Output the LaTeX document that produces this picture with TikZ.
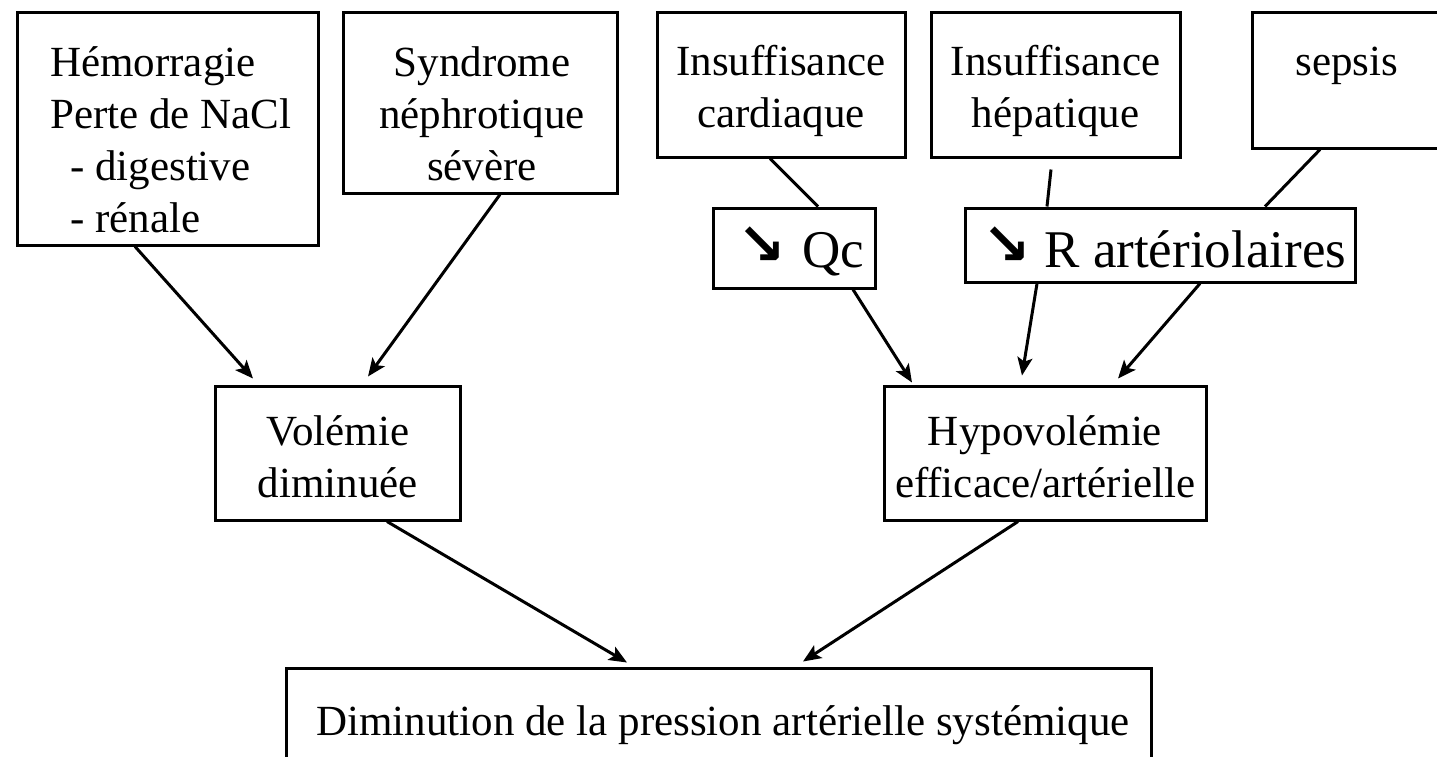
\documentclass[tikz,border=0pt]{standalone}
\usepackage{fontspec}
\setmainfont{Liberation Serif}
\newfontfamily\dejavu{DejaVu Sans}
\usetikzlibrary{arrows.meta}
\begin{document}
\begin{tikzpicture}[x=1pt,y=-1pt,
  box/.style={draw, line width=3pt, inner sep=0pt, rectangle},
  txt/.style={inner sep=0pt, font=\fontsize{43}{52}\selectfont},
  big/.style={inner sep=0pt, font=\fontsize{53}{60}\selectfont},
  conn/.style={line width=3pt},
  arr/.style={line width=3pt, -{Stealth[length=18pt,width=15pt,inset=4pt]}}]
\useasboundingbox (0,0) rectangle (1437,756);
\clip (0,0) rectangle (1437,756);
\newcommand{\dn}{\raisebox{3pt}{\dejavu\bfseries\fontsize{58}{58}\selectfont ↘}}
% boxes
\node[box, minimum width=301pt, minimum height=233pt] (hemo) at (167.5,128.5) {};
\node[box, minimum width=274pt, minimum height=181pt] (synd) at (480,102.5) {};
\node[box, minimum width=248pt, minimum height=145pt] (card) at (781,84.5) {};
\node[box, minimum width=249pt, minimum height=145pt] (hep) at (1055.5,84.5) {};
\node[box, minimum width=208pt, minimum height=136pt] (sep) at (1356,80) {};
\node[box, minimum width=162pt, minimum height=80pt] (qc) at (794,248) {};
\node[box, minimum width=390pt, minimum height=74pt] (rart) at (1160,245) {};
\node[box, minimum width=245pt, minimum height=134pt] (vol) at (337.5,453) {};
\node[box, minimum width=322pt, minimum height=134pt] (hypo) at (1045,453) {};
\node[box, minimum width=865pt, minimum height=122pt] (dim) at (718.5,729) {};
% texts
\node[txt, align=left, anchor=west] (hemo-t) at (50,143.6)
  {\strut Hémorragie\\\strut Perte de NaCl\\\strut\hspace*{20pt}- digestive\\\strut\hspace*{20pt}- rénale};
\node[txt, align=center] (synd-t) at (482,117.6)
  {\strut Syndrome\\\strut néphrotique\\\strut sévère};
\node[txt, align=center] (card-t) at (781,90.6) {\strut Insuffisance\\\strut cardiaque};
\node[txt, align=center] (hep-t) at (1055.5,90.6) {\strut Insuffisance\\\strut hépatique};
\node[txt] (sep-t) at (1347,64.6) {\strut sepsis};
\node[big] (qc-t) at (801,255) {\strut\dn\hspace{16pt}Qc};
\node[big] (rart-t) at (1164.5,255) {\strut\dn\hspace{13pt}R artériolaires};
\node[txt, align=center] (vol-t) at (338,460.6) {\strut Volémie\\\strut diminuée};
\node[txt, align=center] (hypo-t) at (1045,460.6) {\strut Hypovolémie\\\strut efficace/artérielle};
\node[txt] (dim-t) at (723,724.6) {\strut Diminution de la pression artérielle systémique};
% connectors
\draw[arr] ([xshift=-32.5pt]hemo.south) -- ([xshift=-84.5pt,yshift=6pt]vol.north);
\draw[arr] ([xshift=20pt]synd.south) -- ([xshift=30.5pt,yshift=8pt]vol.north);
\draw[conn] ([xshift=-11pt]card.south) -- ([xshift=24pt]qc.north);
\draw[arr] ([xshift=59pt]qc.south) -- ([xshift=-133pt,yshift=2pt]hypo.north);
\draw[conn] ([xshift=-4.5pt,yshift=-11pt]hep.south) -- ([xshift=-113pt]rart.north);
\draw[conn] ([xshift=-36pt]sep.south) -- ([xshift=105pt]rart.north);
\draw[arr] ([xshift=-123pt]rart.south) -- ([xshift=-23pt,yshift=9pt]hypo.north);
\draw[arr] ([xshift=40pt]rart.south) -- ([xshift=73pt,yshift=6pt]hypo.north);
\draw[arr] ([xshift=49.5pt]vol.south) -- ([xshift=-91.5pt,yshift=4pt]dim.north);
\draw[arr] ([xshift=-27pt]hypo.south) -- ([xshift=84.5pt,yshift=5pt]dim.north);
\end{tikzpicture}
\end{document}
